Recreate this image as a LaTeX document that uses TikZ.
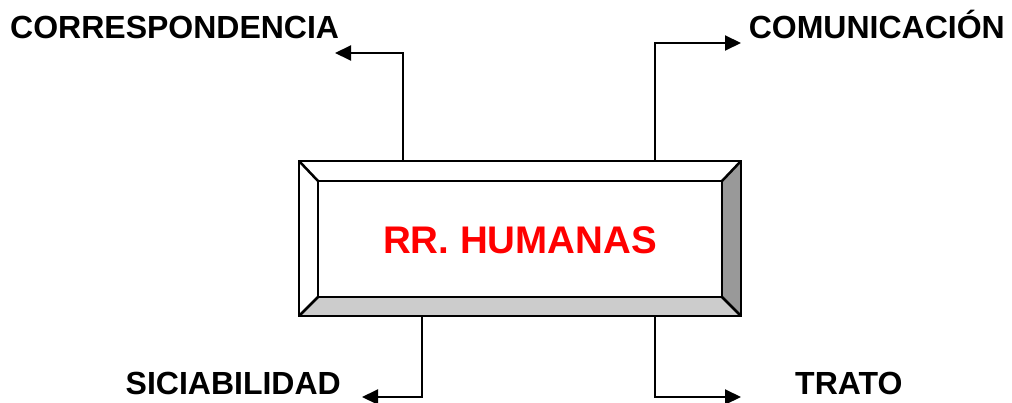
\documentclass[tikz,border=0pt]{standalone}
\usepackage{fontspec}
\setmainfont{Liberation Sans}
\usetikzlibrary{arrows.meta}
\begin{document}
\begin{tikzpicture}[x=1pt,y=-1pt,
  conn/.style={line width=2pt,-{Triangle[length=16pt,width=15pt]}},
  lbl/.style={font=\fontsize{32}{36}\selectfont\bfseries,inner sep=0pt},
  bev/.style={draw=black,line width=2.5pt,line join=miter}]
\useasboundingbox (0,0) rectangle (1012,403);
% bevel box
\coordinate (o1) at (299,161); \coordinate (o2) at (741,161);
\coordinate (o3) at (741,316); \coordinate (o4) at (299,316);
\coordinate (i1) at (318,181); \coordinate (i2) at (722,181);
\coordinate (i3) at (722,297); \coordinate (i4) at (318,297);
\fill[white] (o1)--(o2)--(i2)--(i1)--cycle;
\fill[white] (o1)--(i1)--(i4)--(o4)--cycle;
\fill[black!40] (o2)--(o3)--(i3)--(i2)--cycle;
\fill[black!20] (o4)--(i4)--(i3)--(o3)--cycle;
\draw[bev] (o1) rectangle (o3);
\draw[bev] (i1) rectangle (i3);
\draw[bev] (o1)--(i1) (o2)--(i2) (o3)--(i3) (o4)--(i4);
\node[inner sep=0pt,text=red,font=\fontsize{38.5}{44}\selectfont\bfseries] (hum) at (520,240) {RR. HUMANAS};
% labels
\node[lbl,anchor=base west] (corr) at (10,39) {CORRESPONDENCIA};
\node[lbl,anchor=base east] (com) at (1005,39) {COMUNICACIÓN};
\node[lbl,anchor=base east] (sic) at (341,394) {SICIABILIDAD};
\node[lbl,anchor=base west] (tra) at (795,394) {TRATO};
% connectors
\coordinate (a1) at (403,161); \coordinate (t1) at (335,53);
\coordinate (a2) at (655,161); \coordinate (t2) at (741,43);
\coordinate (a3) at (422,316); \coordinate (t3) at (362,397);
\coordinate (a4) at (655,316); \coordinate (t4) at (741,397);
\draw[conn] (a1) |- (t1);
\draw[conn] (a2) |- (t2);
\draw[conn] (a3) |- (t3);
\draw[conn] (a4) |- (t4);
\end{tikzpicture}
\end{document}
